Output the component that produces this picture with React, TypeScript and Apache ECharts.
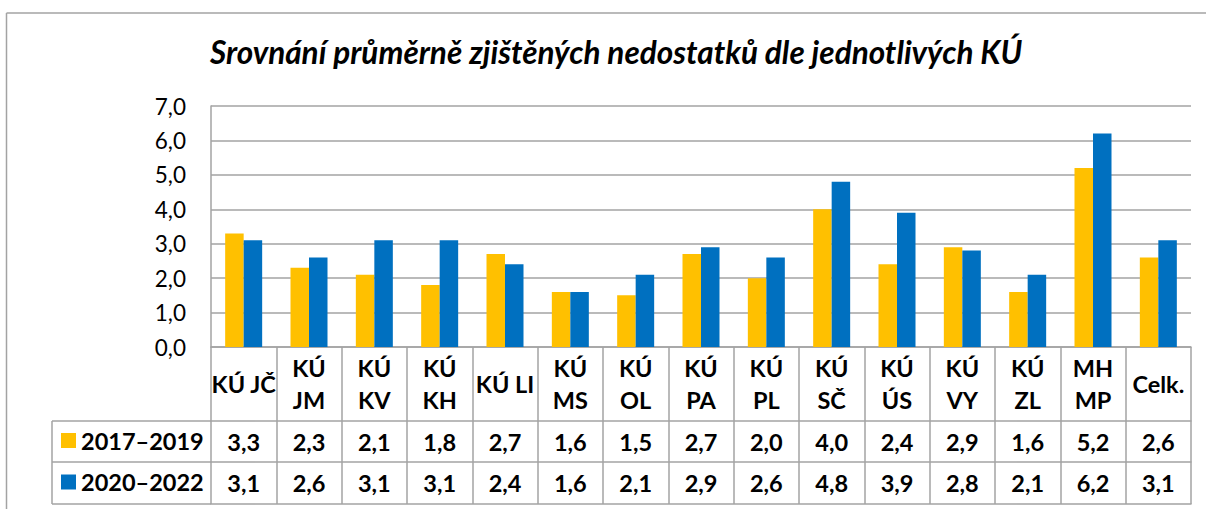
import React, { useEffect, useRef } from 'react';
import * as echarts from 'echarts';

const categories = ['KÚ JČ', 'KÚ\nJM', 'KÚ\nKV', 'KÚ\nKH', 'KÚ LI', 'KÚ\nMS', 'KÚ\nOL', 'KÚ\nPA', 'KÚ\nPL', 'KÚ\nSČ', 'KÚ\nÚS', 'KÚ\nVY', 'KÚ\nZL', 'MH\nMP', 'Celk.'];
const seriesNames = ['2017–2019', '2020–2022'];
const values2017 = [3.3, 2.3, 2.1, 1.8, 2.7, 1.6, 1.5, 2.7, 2.0, 4.0, 2.4, 2.9, 1.6, 5.2, 2.6];
const values2020 = [3.1, 2.6, 3.1, 3.1, 2.4, 1.6, 2.1, 2.9, 2.6, 4.8, 3.9, 2.8, 2.1, 6.2, 3.1];
const yMin = 0;
const yMax = 7;
const yStep = 1;

const W = 1206;
const H = 509;
const GRID_L = 211;
const GRID_R = 1191;
const GRID_T = 106;
const GRID_B = 347;
const ROW1 = 421;
const ROW2 = 462;
const ROW3 = 504;
const TABLE_L = 52;
const GRAY = '#a3a3a3';
const YELLOW = '#FFC000';
const BLUE = '#0070C0';
const FONT = 'Lato, "Noto Sans", sans-serif';

const fmt = (v: number) => v.toFixed(1).replace('.', ',');

export default function App() {
  const ref = useRef<HTMLDivElement>(null);
  useEffect(() => {
    if (!ref.current) return;
    const chart = echarts.init(ref.current, undefined, { renderer: 'svg' });
    const tableText = { fontFamily: FONT, fontWeight: 'bold' as const, fontSize: 23.5, color: '#000' };
    const option: any = {
      animation: false,
      backgroundColor: '#fff',
      textStyle: { fontFamily: FONT },
      title: {
        text: 'Srovnání průměrně zjištěných nedostatků dle jednotlivých KÚ',
        left: 210,
        top: 36,
        padding: 0,
        textStyle: { fontFamily: FONT, fontSize: 31.5, fontWeight: 'bold', fontStyle: 'italic', color: '#000' },
      },
      legend: [
        {
          data: [seriesNames[0]],
          left: 61,
          top: (ROW1 + ROW2) / 2 - 13,
          padding: 0,
          itemWidth: 15,
          itemHeight: 15,
          icon: 'rect',
          textStyle: tableText,
          selectedMode: false,
        },
        {
          data: [seriesNames[1]],
          left: 61,
          top: (ROW2 + ROW3) / 2 - 13,
          padding: 0,
          itemWidth: 15,
          itemHeight: 15,
          icon: 'rect',
          textStyle: tableText,
          selectedMode: false,
        },
      ],
      grid: { left: GRID_L, right: W - GRID_R, top: GRID_T, bottom: H - GRID_B, containLabel: false },
      xAxis: [
        {
          type: 'category',
          data: categories,
          position: 'bottom',
          offset: 0,
          axisLine: { show: true, lineStyle: { color: GRAY, width: 1.5 } },
          axisTick: { show: true, interval: 0, length: ROW3 - GRID_B, lineStyle: { color: GRAY, width: 1.5 } },
          axisLabel: {
            interval: 0,
            margin: (ROW1 - GRID_B) / 2,
            verticalAlign: 'middle',
            lineHeight: 32,
            ...tableText,
          },
        },
        {
          type: 'category',
          data: categories,
          position: 'bottom',
          offset: ROW1 - GRID_B,
          axisLine: { show: true, lineStyle: { color: GRAY, width: 1.5 } },
          axisTick: { show: false },
          axisLabel: {
            interval: 0,
            margin: (ROW2 - ROW1) / 2,
            verticalAlign: 'middle',
            formatter: (_v: string, i: number) => fmt(values2017[i]),
            ...tableText,
          },
        },
        {
          type: 'category',
          data: categories,
          position: 'bottom',
          offset: ROW2 - GRID_B,
          axisLine: { show: true, lineStyle: { color: GRAY, width: 1.5 } },
          axisTick: { show: false },
          axisLabel: {
            interval: 0,
            margin: (ROW3 - ROW2) / 2,
            verticalAlign: 'middle',
            formatter: (_v: string, i: number) => fmt(values2020[i]),
            ...tableText,
          },
        },
        {
          type: 'category',
          data: categories,
          position: 'bottom',
          offset: ROW3 - GRID_B,
          axisLine: { show: true, lineStyle: { color: GRAY, width: 1.5 } },
          axisTick: { show: false },
          axisLabel: { show: false },
        },
      ],
      yAxis: {
        type: 'value',
        min: yMin,
        max: yMax,
        interval: yStep,
        axisLine: { show: true, lineStyle: { color: GRAY, width: 1.5 } },
        axisTick: { show: false },
        splitLine: { show: true, lineStyle: { color: GRAY, width: 1.5 } },
        axisLabel: {
          margin: 25,
          fontFamily: FONT,
          fontSize: 22.5,
          color: '#000',
          formatter: (v: number) => fmt(v),
        },
      },
      series: [
        {
          name: seriesNames[0],
          type: 'bar',
          data: values2017,
          barWidth: 18.5,
          barGap: '0%',
          itemStyle: { color: YELLOW },
        },
        {
          name: seriesNames[1],
          type: 'bar',
          data: values2020,
          barWidth: 18.5,
          barGap: '0%',
          itemStyle: { color: BLUE },
        },
      ],
      graphic: [
        { type: 'line', shape: { x1: 6.5, y1: 13, x2: W, y2: 13 }, style: { stroke: GRAY, lineWidth: 1.5 } },
        { type: 'line', shape: { x1: 6.5, y1: 13, x2: 6.5, y2: H }, style: { stroke: GRAY, lineWidth: 1.5 } },
        { type: 'line', shape: { x1: TABLE_L, y1: ROW1, x2: GRID_L, y2: ROW1 }, style: { stroke: GRAY, lineWidth: 1.5 } },
        { type: 'line', shape: { x1: TABLE_L, y1: ROW2, x2: GRID_L, y2: ROW2 }, style: { stroke: GRAY, lineWidth: 1.5 } },
        { type: 'line', shape: { x1: TABLE_L, y1: ROW3, x2: GRID_L, y2: ROW3 }, style: { stroke: GRAY, lineWidth: 1.5 } },
        { type: 'line', shape: { x1: TABLE_L, y1: ROW1, x2: TABLE_L, y2: ROW3 }, style: { stroke: GRAY, lineWidth: 1.5 } },
      ],
    };
    chart.setOption(option);
    return () => chart.dispose();
  }, []);
  return (
    <div
      ref={ref}
      style={{ position: 'fixed', left: 0, top: 0, width: W, height: H, background: '#fff' }}
    />
  );
}
